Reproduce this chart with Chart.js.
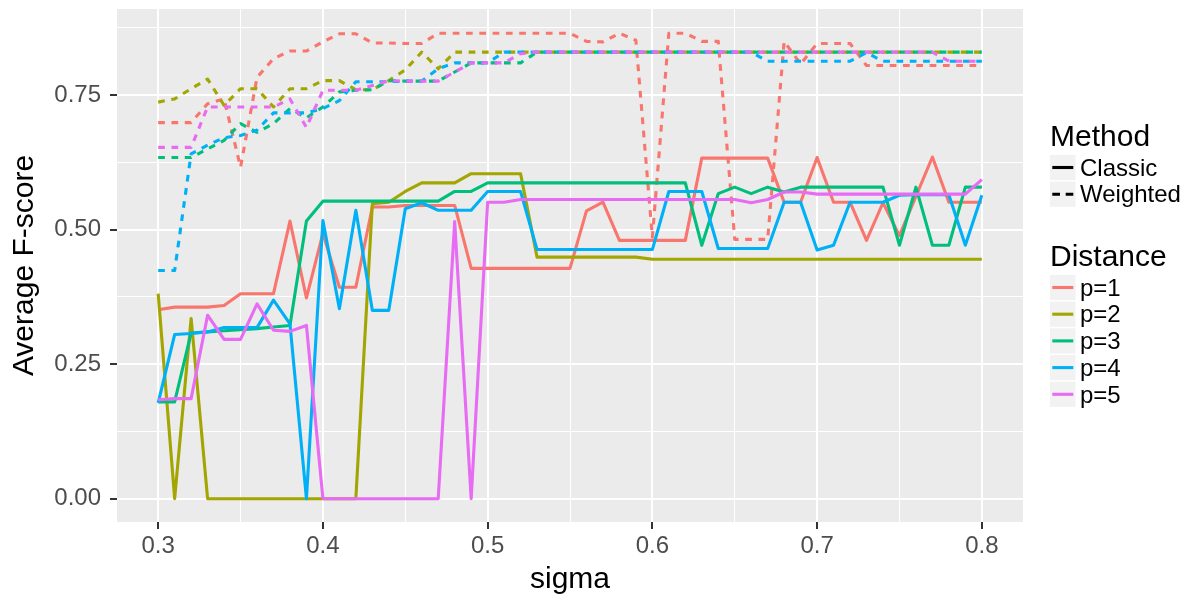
<!DOCTYPE html>
<html>
<head>
<meta charset="utf-8">
<script src="https://cdn.jsdelivr.net/npm/chart.js@4.4.1/dist/chart.umd.min.js"></script>
<style>
  html, body { margin: 0; padding: 0; background: #ffffff; }
  #wrap { width: 1195px; height: 600px; position: relative; }
</style>
</head>
<body>
<div id="wrap"><canvas id="chart" width="1195" height="600"></canvas></div>
<script>
// sigma values on the x axis
const sigma = [0.30,0.31,0.32,0.33,0.34,0.35,0.36,0.37,0.38,0.39,
               0.40,0.41,0.42,0.43,0.44,0.45,0.46,0.47,0.48,0.49,
               0.50,0.51,0.52,0.53,0.54,0.55,0.56,0.57,0.58,0.59,
               0.60,0.61,0.62,0.63,0.64,0.65,0.66,0.67,0.68,0.69,
               0.70,0.71,0.72,0.73,0.74,0.75,0.76,0.77,0.78,0.79,0.80];

// Average F-score, Classic method
const classicP1 = [0.351,0.356,0.356,0.356,0.359,0.381,0.381,0.381,0.516,0.373,
                   0.493,0.393,0.393,0.542,0.542,0.545,0.545,0.545,0.545,0.428,
                   0.428,0.428,0.428,0.428,0.428,0.428,0.535,0.551,0.480,0.480,
                   0.480,0.480,0.480,0.633,0.633,0.633,0.633,0.633,0.551,0.551,
                   0.634,0.551,0.551,0.480,0.550,0.489,0.562,0.635,0.551,0.551,0.551];
const classicP2 = [0.381,0.000,0.335,0.000,0.000,0.000,0.000,0.000,0.000,0.000,
                   0.000,0.000,0.000,0.548,0.551,0.571,0.587,0.587,0.587,0.604,
                   0.604,0.604,0.604,0.449,0.449,0.449,0.449,0.449,0.449,0.449,
                   0.445,0.445,0.445,0.445,0.445,0.445,0.445,0.445,0.445,0.445,
                   0.445,0.445,0.445,0.445,0.445,0.445,0.445,0.445,0.445,0.445,0.445];
const classicP3 = [0.180,0.180,0.308,0.310,0.312,0.314,0.316,0.319,0.322,0.516,
                   0.553,0.553,0.553,0.553,0.553,0.553,0.553,0.553,0.571,0.571,
                   0.587,0.587,0.587,0.587,0.587,0.587,0.587,0.587,0.587,0.587,
                   0.587,0.587,0.587,0.471,0.567,0.579,0.567,0.579,0.570,0.579,
                   0.579,0.579,0.579,0.579,0.579,0.471,0.579,0.471,0.471,0.579,0.579];
const classicP4 = [0.178,0.305,0.307,0.310,0.318,0.318,0.318,0.369,0.325,0.000,
                   0.517,0.353,0.536,0.350,0.350,0.539,0.550,0.536,0.536,0.536,
                   0.571,0.571,0.571,0.463,0.463,0.463,0.463,0.463,0.463,0.463,
                   0.463,0.571,0.571,0.571,0.465,0.465,0.465,0.465,0.551,0.551,
                   0.462,0.471,0.551,0.551,0.551,0.564,0.565,0.565,0.565,0.471,0.564];
const classicP5 = [0.184,0.186,0.186,0.341,0.296,0.296,0.362,0.313,0.311,0.322,
                   0.000,0.000,0.000,0.000,0.000,0.000,0.000,0.000,0.515,0.000,
                   0.551,0.551,0.556,0.556,0.556,0.556,0.556,0.556,0.556,0.556,
                   0.556,0.556,0.556,0.556,0.556,0.556,0.550,0.556,0.570,0.570,
                   0.566,0.566,0.566,0.566,0.566,0.566,0.566,0.566,0.566,0.566,0.593];

// Average F-score, Weighted method
const weightedP1 = [0.699,0.699,0.699,0.734,0.743,0.616,0.783,0.818,0.832,0.832,
                    0.849,0.864,0.864,0.847,0.847,0.846,0.846,0.865,0.865,0.865,
                    0.865,0.865,0.865,0.865,0.865,0.865,0.850,0.849,0.865,0.852,
                    0.486,0.865,0.865,0.850,0.850,0.482,0.482,0.482,0.850,0.808,
                    0.846,0.846,0.846,0.805,0.805,0.805,0.805,0.805,0.805,0.805,0.805];
const weightedP2 = [0.737,0.743,0.762,0.780,0.731,0.762,0.762,0.728,0.762,0.762,
                    0.777,0.777,0.760,0.760,0.777,0.797,0.830,0.799,0.830,0.830,
                    0.830,0.830,0.830,0.830,0.830,0.830,0.830,0.830,0.830,0.830,
                    0.830,0.830,0.830,0.830,0.830,0.830,0.830,0.830,0.830,0.830,
                    0.830,0.830,0.830,0.830,0.830,0.830,0.830,0.830,0.830,0.830,0.830];
const weightedP3 = [0.634,0.634,0.634,0.650,0.666,0.697,0.681,0.697,0.725,0.708,
                    0.728,0.756,0.759,0.760,0.777,0.776,0.776,0.776,0.793,0.810,
                    0.810,0.810,0.810,0.830,0.830,0.830,0.830,0.830,0.830,0.830,
                    0.830,0.830,0.830,0.830,0.830,0.830,0.830,0.830,0.830,0.830,
                    0.830,0.830,0.830,0.830,0.830,0.830,0.830,0.830,0.830,0.830,0.830];
const weightedP4 = [0.424,0.424,0.641,0.657,0.671,0.675,0.685,0.717,0.717,0.717,
                    0.725,0.740,0.775,0.775,0.775,0.776,0.776,0.799,0.810,0.810,
                    0.810,0.830,0.830,0.830,0.830,0.830,0.830,0.830,0.830,0.830,
                    0.830,0.830,0.830,0.830,0.830,0.830,0.830,0.813,0.813,0.813,
                    0.813,0.813,0.813,0.829,0.813,0.813,0.813,0.813,0.813,0.813,0.813];
const weightedP5 = [0.653,0.653,0.653,0.728,0.728,0.728,0.728,0.728,0.743,0.690,
                    0.759,0.759,0.759,0.768,0.777,0.776,0.776,0.776,0.793,0.810,
                    0.810,0.810,0.827,0.830,0.830,0.830,0.830,0.830,0.830,0.830,
                    0.830,0.830,0.830,0.830,0.830,0.830,0.830,0.830,0.830,0.830,
                    0.830,0.830,0.830,0.830,0.830,0.830,0.830,0.830,0.813,0.813,0.813];

// Axis ticks (major ones get labels, the rest are minor grid lines)
const xTicks = [0.30,0.35,0.40,0.45,0.50,0.55,0.60,0.65,0.70,0.75,0.80];
const yTicks = [0.000,0.125,0.250,0.375,0.500,0.625,0.750,0.875];

// Legend groups
const methods = ['Classic', 'Weighted'];
const distances = ['p=1', 'p=2', 'p=3', 'p=4', 'p=5'];
const distanceColors = ['#F8766D', '#A3A500', '#00BF7D', '#00B0F6', '#E76BF3'];

const FONT = "'Liberation Sans', Arial, Helvetica, sans-serif";
const DASH = [6.7, 6.6];
const methodDash = [[], DASH];

const classicSeries = [classicP1, classicP2, classicP3, classicP4, classicP5];
const weightedSeries = [weightedP1, weightedP2, weightedP3, weightedP4, weightedP5];

const isMajorX = v => Math.abs(v * 10 - Math.round(v * 10)) < 1e-6;
const isMajorY = v => Math.abs(v * 4 - Math.round(v * 4)) < 1e-6;

// one line per (distance, method); later groups are drawn on top
const datasets = [];
distances.forEach((d, k) => {
  [classicSeries[k], weightedSeries[k]].forEach((vals, m) => {
    const drawIndex = datasets.length;
    datasets.push({
      label: d + ' ' + methods[m],
      data: sigma.map((s, i) => ({ x: s, y: vals[i] })),
      borderColor: distanceColors[k],
      backgroundColor: distanceColors[k],
      borderWidth: 3.1,
      borderDash: methodDash[m],
      borderCapStyle: 'butt',
      borderJoinStyle: 'round',
      pointRadius: 0,
      pointHoverRadius: 0,
      tension: 0,
      fill: false,
      order: 9 - drawIndex
    });
  });
});

// grey panel behind the grid
const panelBackground = {
  id: 'panelBackground',
  beforeDraw(chart) {
    const { ctx, chartArea: a } = chart;
    ctx.save();
    ctx.fillStyle = '#EBEBEB';
    ctx.fillRect(a.left, a.top, a.right - a.left, a.bottom - a.top);
    ctx.restore();
  }
};

// two-part legend on the right: line type for Method, colour for Distance
const sideLegend = {
  id: 'sideLegend',
  afterDraw(chart) {
    const ctx = chart.ctx;
    const keyX = 1050, keyW = 25.5, keyH = 25.2;
    const lineX0 = 1052.3, lineX1 = 1073.3, textX = 1080;
    const drawKey = (cy, color, dash) => {
      ctx.fillStyle = '#F2F2F2';
      ctx.fillRect(keyX, cy - keyH / 2, keyW, keyH);
      ctx.strokeStyle = color;
      ctx.lineWidth = 3.1;
      ctx.lineCap = 'butt';
      ctx.setLineDash(dash);
      ctx.beginPath();
      ctx.moveTo(lineX0, cy);
      ctx.lineTo(lineX1, cy);
      ctx.stroke();
      ctx.setLineDash([]);
    };
    ctx.save();
    ctx.textAlign = 'left';
    ctx.textBaseline = 'alphabetic';

    ctx.fillStyle = '#000000';
    ctx.font = '30px ' + FONT;
    ctx.fillText('Method', 1050, 146);
    methods.forEach((m, i) => {
      const cy = 167.5 + i * 26.7;
      drawKey(cy, '#000000', i ? [7.7, 5.7] : []);
      ctx.fillStyle = '#000000';
      ctx.font = '24px ' + FONT;
      ctx.fillText(m, textX, cy + 8.2);
    });

    ctx.fillStyle = '#000000';
    ctx.font = '30px ' + FONT;
    ctx.fillText('Distance', 1050, 266);
    distances.forEach((d, i) => {
      const cy = 287.5 + i * 26.7;
      drawKey(cy, distanceColors[i], []);
      ctx.fillStyle = '#000000';
      ctx.font = '24px ' + FONT;
      ctx.fillText(d, textX, cy + 8.2);
    });
    ctx.restore();
  }
};

Chart.defaults.font.family = FONT;

new Chart(document.getElementById('chart'), {
  type: 'line',
  data: { datasets },
  options: {
    responsive: false,
    animation: false,
    devicePixelRatio: 1,
    layout: { padding: { top: 9, right: 172, bottom: 0, left: 0 } },
    plugins: {
      legend: { display: false },
      tooltip: { enabled: false }
    },
    scales: {
      x: {
        type: 'linear',
        min: 0.275,
        max: 0.825,
        afterBuildTicks: s => { s.ticks = xTicks.map(v => ({ value: v })); },
        afterFit: s => { s.height = 78; s.paddingLeft = 0; s.paddingRight = 0; },
        border: { display: false },
        grid: {
          color: '#FFFFFF',
          lineWidth: c => (c.tick && isMajorX(c.tick.value)) ? 2 : 1,
          drawTicks: true,
          tickLength: 7,
          tickWidth: 2,
          tickColor: c => (c.tick && isMajorX(c.tick.value)) ? '#333333' : 'rgba(0,0,0,0)'
        },
        ticks: {
          autoSkip: false,
          maxRotation: 0,
          minRotation: 0,
          padding: 3,
          color: '#4D4D4D',
          font: { size: 24 },
          callback: v => isMajorX(v) ? v.toFixed(1) : ''
        },
        title: {
          display: true,
          text: 'sigma',
          color: '#000000',
          font: { size: 30 },
          padding: { top: 0, bottom: 2 }
        }
      },
      y: {
        type: 'linear',
        min: -0.04334,
        max: 0.9101,
        afterBuildTicks: s => { s.ticks = yTicks.map(v => ({ value: v })); },
        afterFit: s => { s.width = 117; s.paddingTop = 0; s.paddingBottom = 0; },
        border: { display: false },
        grid: {
          color: '#FFFFFF',
          lineWidth: c => (c.tick && isMajorY(c.tick.value)) ? 2 : 1,
          drawTicks: true,
          tickLength: 7,
          tickWidth: 2,
          tickColor: c => (c.tick && isMajorY(c.tick.value)) ? '#333333' : 'rgba(0,0,0,0)'
        },
        ticks: {
          padding: 9,
          color: '#4D4D4D',
          font: { size: 24 },
          callback: v => isMajorY(v) ? v.toFixed(2) : ''
        },
        title: {
          display: true,
          text: 'Average F-score',
          color: '#000000',
          font: { size: 30 },
          padding: { top: 7, bottom: 0 }
        }
      }
    }
  },
  plugins: [panelBackground, sideLegend]
});
</script>
</body>
</html>
